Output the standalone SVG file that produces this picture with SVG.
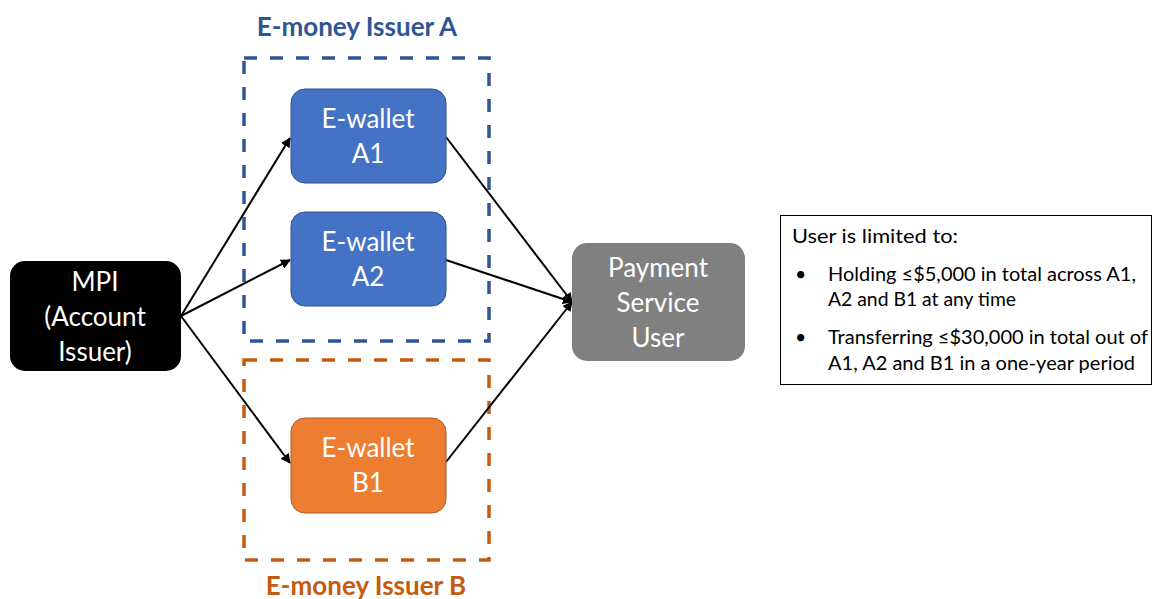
<svg xmlns="http://www.w3.org/2000/svg" width="1153" height="599" viewBox="0 0 1153 599">
<style>
.lbl{font-family:Lato,"Open Sans","Liberation Sans",sans-serif;font-size:26px;fill:#fff;text-anchor:middle}
.title{font-family:Lato,"Open Sans","Liberation Sans",sans-serif;font-size:26px;font-weight:bold;text-anchor:middle}
.note{font-family:Lato,"Open Sans","Liberation Sans",sans-serif;font-size:19.5px;fill:#000}
.dash{fill:none;stroke-width:3.5;stroke-dasharray:13 13}
.conn{stroke:#000;stroke-width:2;fill:none;marker-end:url(#ah)}
</style>
<defs>
<marker id="ah" viewBox="0 0 10 10" refX="9" refY="5" markerWidth="5" markerHeight="5" orient="auto" markerUnits="strokeWidth">
<path d="M0,0 L10,5 L0,10 z" fill="#000"/>
</marker>
</defs>
<rect width="1153" height="599" fill="#fff"/>
<g id="issuerA">
<rect class="dash" x="244" y="58" width="245" height="283" stroke="#2F5597"/>
<text class="title" x="357" y="36" fill="#2F5597">E-money Issuer A</text>
</g>
<g id="issuerB">
<rect class="dash" x="244" y="360" width="245" height="200" stroke="#C55A11"/>
<text class="title" x="366" y="595" fill="#C55A11">E-money Issuer B</text>
</g>
<g id="connectors">
<line class="conn" x1="181" y1="316" x2="290" y2="138"/>
<line class="conn" x1="181" y1="316" x2="290" y2="260"/>
<line class="conn" x1="181" y1="316" x2="290" y2="463"/>
<line class="conn" x1="446" y1="137" x2="572" y2="302"/>
<line class="conn" x1="446" y1="260" x2="572" y2="302"/>
<line class="conn" x1="446" y1="462" x2="572" y2="302"/>
</g>
<g id="mpi">
<rect x="10" y="261" width="171" height="110" rx="15" fill="#000"/>
<text class="lbl" x="95" y="291">MPI</text>
<text class="lbl" x="95" y="326">(Account</text>
<text class="lbl" x="95" y="361">Issuer)</text>
</g>
<g id="walletA1">
<rect x="291" y="89" width="155" height="94" rx="14" fill="#4472C4" stroke="#2F528F" stroke-width="1"/>
<text class="lbl" x="368" y="128">E-wallet</text>
<text class="lbl" x="368" y="163">A1</text>
</g>
<g id="walletA2">
<rect x="291" y="212" width="155" height="94" rx="14" fill="#4472C4" stroke="#2F528F" stroke-width="1"/>
<text class="lbl" x="368" y="251">E-wallet</text>
<text class="lbl" x="368" y="286">A2</text>
</g>
<g id="walletB1">
<rect x="291" y="418" width="155" height="95" rx="14" fill="#ED7D31" stroke="#AE5A21" stroke-width="1"/>
<text class="lbl" x="368" y="457">E-wallet</text>
<text class="lbl" x="368" y="492">B1</text>
</g>
<g id="psu">
<rect x="572" y="243" width="173" height="118" rx="15" fill="#808080"/>
<text class="lbl" x="658" y="277" fill="#F2F2F2">Payment</text>
<text class="lbl" x="658" y="312" fill="#F2F2F2">Service</text>
<text class="lbl" x="658" y="347" fill="#F2F2F2">User</text>
</g>
<g id="limits">
<rect x="780.5" y="215.5" width="371" height="169" fill="#fff" stroke="#000" stroke-width="1"/>
<text class="note" x="792" y="243" textLength="166" lengthAdjust="spacingAndGlyphs">User is limited to:</text>
<text class="note" x="795" y="281" font-size="17">•</text>
<text class="note" x="828" y="281" textLength="308" lengthAdjust="spacingAndGlyphs">Holding ≤$5,000 in total across A1,</text>
<text class="note" x="828" y="306" textLength="188" lengthAdjust="spacingAndGlyphs">A2 and B1 at any time</text>
<text class="note" x="795" y="344" font-size="17">•</text>
<text class="note" x="828" y="344" textLength="320" lengthAdjust="spacingAndGlyphs">Transferring ≤$30,000 in total out of</text>
<text class="note" x="828" y="370" textLength="307" lengthAdjust="spacingAndGlyphs">A1, A2 and B1 in a one-year period</text>
</g>
</svg>
